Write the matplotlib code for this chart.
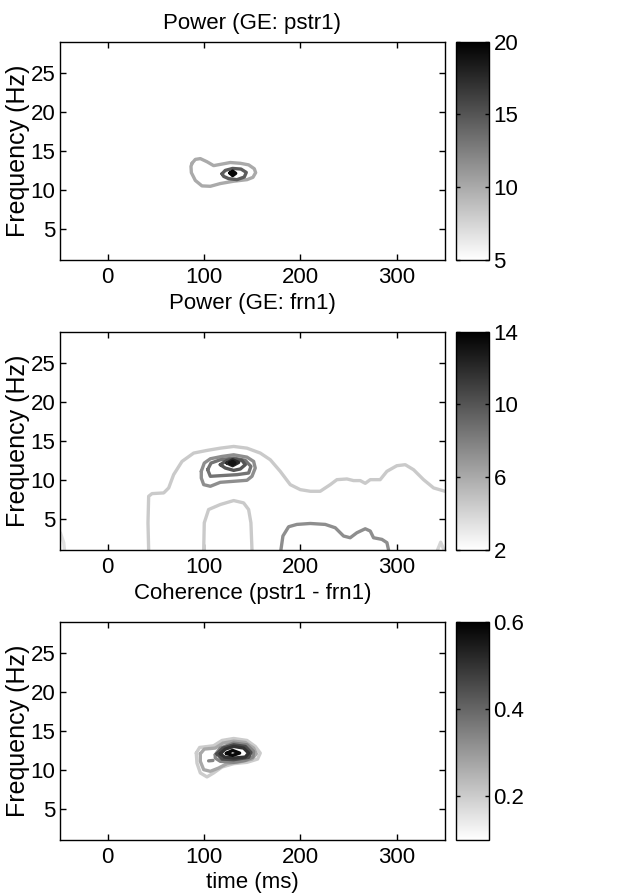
"""
Time-frequency power and coherence contours (GE: pstr1 / frn1)
"""

import matplotlib as mpl
import matplotlib.pyplot as plt
import numpy as np

FILE_NAME = 'out.png'

# ========== Data (contour lines: time in ms, freq in Hz) ==========
# Power (GE: pstr1), colour range 5..20
pstr1_levels = [10, 14.5, 19.5]
pstr1_c1_t = [87.5, 90.9, 96.1, 103.0, 109.9, 118.6, 127.2, 137.6, 146.2, 152.1, 153.5,
              150.7, 144.5, 130.7, 116.8, 106.5, 97.8, 90.9, 86.8, 86.4]
pstr1_c1_f = [13.4, 13.9, 14.0, 13.6, 13.1, 13.3, 13.5, 13.4, 13.2, 12.7, 12.2,
              11.6, 11.3, 11.1, 10.8, 10.45, 10.5, 11.2, 12.2, 13.0]
pstr1_c2_t = [118.6, 122.0, 129.6, 138.3, 143.8, 141.7, 134.1, 125.5, 120.3]
pstr1_c2_f = [12.06, 12.49, 12.74, 12.66, 12.23, 11.64, 11.30, 11.43, 11.72]
pstr1_c3_t = [126.8, 129.6, 132.8, 129.6]
pstr1_c3_f = [12.15, 12.40, 12.11, 11.82]

# Power (GE: frn1), colour range 2..14
frn1_levels = [4.5, 4.5, 7.3, 3.5, 4.0, 7.3, 8.6, 10, 12, 13]
frn1_c1_t = [42.5, 41.8, 42.5, 46.0, 58.1, 63.3, 68.4, 77.1, 89.2, 103.0, 116.8, 130.7,
             144.5, 158.3, 168.7, 179.0, 189.4, 199.8, 210.2, 220.5, 230.9, 237.8, 248.2,
             255.1, 262.0, 267.2, 272.4, 282.7, 289.7, 300.0, 308.7, 317.3, 327.7, 338.1, 350.0]
frn1_c1_f = [1.0, 4.49, 7.89, 8.23, 8.32, 8.96, 10.66, 12.36, 13.43, 13.77, 14.06, 14.28,
             14.06, 13.43, 12.57, 11.09, 9.38, 8.74, 8.53, 8.53, 9.38, 10.02, 10.11,
             9.9, 9.9, 9.55, 10.02, 10.02, 11.09, 11.81, 11.94, 11.30, 10.02, 8.96, 8.53]
frn1_c2_t = [99.6, 100.2, 104.7, 116.8, 130.7, 141.0, 146.2, 148.6, 149.7]
frn1_c2_f = [1.0, 4.49, 6.19, 6.83, 7.34, 7.04, 6.19, 4.49, 1.0]
frn1_c3_t = [179.7, 181.8, 187.7, 196.3, 210.2, 225.7, 236.1, 244.7, 251.6, 258.5,
             267.2, 272.4, 275.8, 284.5, 289.7, 291.4]
frn1_c3_f = [1.0, 2.79, 3.98, 4.28, 4.40, 4.28, 3.85, 2.79, 2.57, 3.21,
             3.72, 3.43, 2.57, 2.36, 1.94, 1.0]
frn1_c4_t = [-49.1, -45.6, -44.9]
frn1_c4_f = [3.21, 1.94, 1.0]
frn1_c5_t = [342.2, 345.5, 348.9]
frn1_c5_f = [1.0, 2.0, 1.0]
frn1_c6_t = [97.1, 100.2, 106.5, 118.6, 130.7, 144.5, 151.4, 153.1, 149.7, 144.5,
             130.7, 116.8, 106.5, 99.6, 97.1]
frn1_c6_f = [11.09, 12.15, 12.70, 13.0, 13.21, 12.91, 12.36, 11.51, 10.45, 9.94,
             9.81, 9.68, 9.17, 9.38, 10.23]
frn1_c7_t = [103.7, 107.2, 116.8, 130.7, 142.8, 148.6, 146.2, 134.1, 116.8, 106.5]
frn1_c7_f = [11.30, 12.15, 12.57, 12.79, 12.49, 11.72, 10.87, 10.66, 10.53, 10.45]
frn1_c8_t = [116.8, 123.7, 130.7, 139.3, 142.8, 137.6, 130.7, 122.0]
frn1_c8_f = [11.94, 12.49, 12.66, 12.49, 11.94, 11.39, 11.21, 11.51]
frn1_c9_t = [123.7, 129.6, 135.9, 129.6]
frn1_c9_f = [12.15, 12.57, 12.23, 11.81]
frn1_c10_t = [126.5, 129.6, 132.0, 129.6]
frn1_c10_f = [12.15, 12.36, 12.15, 11.95]

# Coherence (pstr1 - frn1), colour range 0.1..0.6
coh_levels = [0.2, 0.27, 0.34, 0.34, 0.45, 0.5, 0.58]
coh_c1_t = [91.9, 95.4, 109.9, 118.6, 130.7, 144.5, 153.1, 158.3, 155.5, 144.5, 130.7,
            118.6, 109.9, 103.0, 96.1, 92.6]
coh_c1_f = [12.15, 12.87, 13.09, 13.77, 14.02, 13.77, 13.0, 12.15, 11.38, 10.96, 10.79,
            10.36, 9.60, 9.09, 9.60, 10.87]
coh_c2_t = [96.1, 100.2, 111.6, 119.6, 130.7, 142.8, 151.4, 154.2, 149.7, 137.6, 123.7,
            115.1, 106.5, 99.6, 96.1]
coh_c2_f = [12.06, 12.66, 12.79, 13.43, 13.68, 13.51, 12.79, 12.06, 11.38, 11.04, 10.79,
            10.23, 9.81, 10.02, 11.09]
coh_c3_t = [111.6, 116.8, 130.7, 144.5, 151.4, 150.7, 142.8, 130.7, 116.8, 111.6]
coh_c3_f = [11.94, 12.79, 13.43, 13.21, 12.36, 11.64, 11.21, 10.96, 11.09, 11.51]
coh_c4_t = [104.7, 109.2]
coh_c4_f = [11.15, 11.2]
coh_c5_t = [113.4, 119.6, 130.7, 142.8, 148.6, 146.2, 130.7, 118.6]
coh_c5_f = [12.06, 12.79, 13.21, 13.0, 12.23, 11.60, 11.30, 11.38]
coh_c6_t = [116.8, 122.0, 130.7, 141.0, 146.2, 142.8, 130.7, 121.0]
coh_c6_f = [12.06, 12.66, 13.0, 12.79, 12.15, 11.64, 11.51, 11.64]
coh_c7_t = [123.1, 129.6, 136.9, 129.6]
coh_c7_f = [12.11, 12.49, 12.15, 11.85]

x_ticks = [0, 100, 200, 300]
y_ticks = [5, 10, 15, 20, 25]

# ========== Plot ==========
mpl.rcParams['font.family'] = ['Liberation Sans', 'DejaVu Sans']
mpl.rcParams['font.size'] = 16
mpl.rcParams['axes.linewidth'] = 1.0

cmap = plt.get_cmap('gray_r')
linewidth = 2.4

fig = plt.figure(figsize=(6.31, 8.94), dpi=100)

ax_left, ax_w = 0.0943, 0.611
cb_left, cb_w = 0.7222, 0.0532
ax_h = 0.2442
bottoms = [0.7092, 0.3848, 0.0604]


def draw_line(ax, norm, level, t, f, closed=True):
    t = list(t)
    f = list(f)
    if closed:
        t.append(t[0])
        f.append(f[0])
    ax.plot(t, f, color=cmap(norm(level)), linewidth=linewidth,
            solid_joinstyle='round', solid_capstyle='round', clip_on=True)


def make_panel(bottom, title, pad, vmin, vmax, cticks, ctlabels, lines):
    ax = fig.add_axes([ax_left, bottom, ax_w, ax_h])
    cax = fig.add_axes([cb_left, bottom, cb_w, ax_h])
    norm = mpl.colors.Normalize(vmin=vmin, vmax=vmax)
    for level, t, f, closed in lines:
        draw_line(ax, norm, level, t, f, closed)
    ax.set_xlim(-50, 350)
    ax.set_ylim(1, 29)
    ax.set_xticks(x_ticks)
    ax.set_yticks(y_ticks)
    ax.tick_params(direction='in', top=True, right=True, length=4.5, width=1,
                   pad=5)
    ax.tick_params(axis='y', pad=3)
    ax.set_ylabel('Frequency (Hz)', labelpad=0, fontsize=18)
    ax.set_title(title, pad=pad, fontsize=16)

    sm = mpl.cm.ScalarMappable(norm=norm, cmap=cmap)
    cb = fig.colorbar(sm, cax=cax, ticks=cticks)
    cb.ax.set_yticklabels(ctlabels)
    cb.outline.set_linewidth(1.0)
    cax.tick_params(direction='in', left=True, right=True, length=3, width=1, pad=3)
    return ax


ax1 = make_panel(bottoms[0], 'Power (GE: pstr1)', 9, 5, 20, [5, 10, 15, 20],
                 ['5', '10', '15', '20'],
                 [(pstr1_levels[0], pstr1_c1_t, pstr1_c1_f, True),
                  (pstr1_levels[1], pstr1_c2_t, pstr1_c2_f, True),
                  (pstr1_levels[2], pstr1_c3_t, pstr1_c3_f, True)])

ax2 = make_panel(bottoms[1], 'Power (GE: frn1)', 16.5, 2, 14, [2, 6, 10, 14],
                 ['2', '6', '10', '14'],
                 [(frn1_levels[0], frn1_c1_t, frn1_c1_f, False),
                  (frn1_levels[1], frn1_c2_t, frn1_c2_f, False),
                  (frn1_levels[2], frn1_c3_t, frn1_c3_f, False),
                  (frn1_levels[3], frn1_c4_t, frn1_c4_f, False),
                  (frn1_levels[4], frn1_c5_t, frn1_c5_f, False),
                  (frn1_levels[5], frn1_c6_t, frn1_c6_f, True),
                  (frn1_levels[6], frn1_c7_t, frn1_c7_f, True),
                  (frn1_levels[7], frn1_c8_t, frn1_c8_f, True),
                  (frn1_levels[8], frn1_c9_t, frn1_c9_f, True),
                  (frn1_levels[9], frn1_c10_t, frn1_c10_f, True)])

ax3 = make_panel(bottoms[2], 'Coherence (pstr1 - frn1)', 16, 0.1, 0.6, [0.2, 0.4, 0.6],
                 ['0.2', '0.4', '0.6'],
                 [(coh_levels[0], coh_c1_t, coh_c1_f, True),
                  (coh_levels[1], coh_c2_t, coh_c2_f, True),
                  (coh_levels[2], coh_c3_t, coh_c3_f, True),
                  (coh_levels[3], coh_c4_t, coh_c4_f, False),
                  (coh_levels[4], coh_c5_t, coh_c5_f, True),
                  (coh_levels[5], coh_c6_t, coh_c6_f, True),
                  (coh_levels[6], coh_c7_t, coh_c7_f, True)])
ax3.set_xlabel('time (ms)', labelpad=3)

plt.savefig(FILE_NAME, dpi=fig.dpi)
